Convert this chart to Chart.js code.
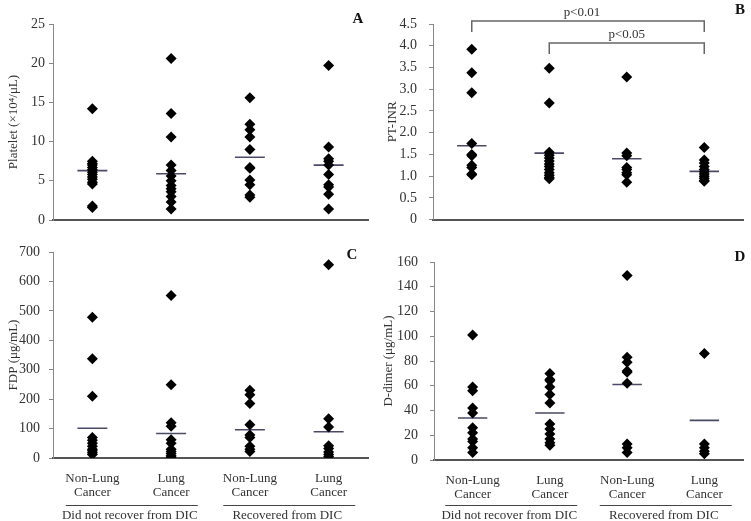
<!DOCTYPE html>
<html lang="en">
<head>
<meta charset="UTF-8">
<title>Coagulation markers by DIC outcome</title>
<style>
  body { margin: 0; background: #fff; }
  .wrap { position: relative; width: 751px; height: 521px; }
  canvas { position: absolute; }
  #pA { left: 0; top: 0; }
  #pB { left: 375px; top: 0; }
  #pC { left: 0; top: 240px; }
  #pD { left: 375px; top: 240px; }
</style>
</head>
<body>
<div class="wrap">
  <canvas id="pA" width="375" height="240"></canvas>
  <canvas id="pB" width="376" height="240"></canvas>
  <canvas id="pC" width="375" height="281"></canvas>
  <canvas id="pD" width="376" height="281"></canvas>
</div>

<script src="https://cdn.jsdelivr.net/npm/chart.js"></script>
<script>
// categories
const catLabels = [['Non-Lung', 'Cancer'], ['Lung', 'Cancer'], ['Non-Lung', 'Cancer'], ['Lung', 'Cancer']];
const groupLabels = ['Did not recover from DIC', 'Recovered from DIC'];

// A - platelet (x10^4/uL)
const pltNoRecNonLung = [14.2, 7.5, 7.2, 7.0, 6.7, 6.4, 6.1, 5.8, 5.5, 5.2, 4.8, 4.6, 1.8, 1.6];
const pltNoRecLung = [20.6, 13.6, 10.6, 7.0, 6.3, 5.6, 5.0, 4.4, 4.0, 3.6, 3.0, 2.3, 1.4];
const pltRecNonLung = [15.6, 12.2, 11.5, 10.6, 9.0, 6.7, 6.6, 5.1, 4.5, 3.2, 2.9];
const pltRecLung = [19.7, 9.3, 7.8, 7.5, 7.0, 5.8, 4.5, 4.2, 3.3, 1.4];
const pltMedian = [6.3, 5.9, 8.0, 7.0];

// B - PT-INR
const inrNoRecNonLung = [3.92, 3.38, 2.92, 1.75, 1.5, 1.47, 1.25, 1.2, 1.05, 1.03];
const inrNoRecLung = [3.48, 2.68, 1.55, 1.48, 1.42, 1.35, 1.28, 1.22, 1.15, 1.08, 1.02, 0.97, 0.94];
const inrRecNonLung = [3.28, 1.53, 1.47, 1.2, 1.15, 1.08, 1.03, 0.86];
const inrRecLung = [1.66, 1.37, 1.3, 1.22, 1.15, 1.1, 1.05, 1.0, 0.95, 0.9, 0.88];
const inrMedian = [1.7, 1.53, 1.4, 1.11];
const inrSig = [{ a: 1, b: 4, label: 'p<0.01' }, { a: 2, b: 4, label: 'p<0.05' }];

// C - FDP (ug/mL)
const fdpNoRecNonLung = [478, 337, 210, 70, 60, 50, 40, 30, 25, 18, 12];
const fdpNoRecLung = [552, 249, 120, 108, 62, 50, 30, 22, 15, 8, 3];
const fdpRecNonLung = [230, 215, 185, 113, 78, 70, 40, 30, 22];
const fdpRecLung = [657, 133, 105, 42, 32, 20, 12, 5];
const fdpMedian = [101, 83, 96, 89];

// D - D-dimer (ug/mL)
const ddNoRecNonLung = [101, 59, 56, 42, 38, 26, 22, 17, 15, 10, 6];
const ddNoRecLung = [70, 65, 64, 59, 53, 46, 29, 25, 21, 17, 14, 12];
const ddRecNonLung = [149, 83, 79, 72, 71, 62, 13, 10, 6];
const ddRecLung = [86, 13, 10, 7, 5];
const ddMedian = [34, 38, 61, 32];

const FONT = 'Liberation Serif, "Times New Roman", serif';
const TXT = '#333';

function toPoints(groups) {
  return groups.flatMap((arr, i) => arr.map(v => ({ x: i + 1, y: v })));
}

function medianPoints(meds) {
  const out = [];
  meds.forEach((m, i) => {
    out.push({ x: i + 1 - 0.19, y: m }, { x: i + 1 + 0.19, y: m }, { x: i + 1.5, y: null });
  });
  return out;
}

// letter in the corner + group captions + brackets
const extras = {
  id: 'extras',
  afterDraw(chart, args, o) {
    const ctx = chart.ctx;
    const xs = chart.scales.x;
    ctx.save();
    ctx.fillStyle = '#111';
    ctx.font = 'bold 15px ' + FONT;
    ctx.textAlign = 'center';
    ctx.textBaseline = 'middle';
    ctx.fillText(o.letter, o.letterX, o.letterY);

    if (o.groups) {
      ctx.font = '13px ' + FONT;
      ctx.fillStyle = TXT;
      ctx.strokeStyle = '#444';
      ctx.lineWidth = 1;
      groupLabels.forEach((g, i) => {
        const x1 = xs.getPixelForValue(1 + i * 2), x2 = xs.getPixelForValue(2 + i * 2);
        const cx = (x1 + x2) / 2;
        ctx.beginPath();
        ctx.moveTo(cx - 66, o.lineY + 0.5);
        ctx.lineTo(cx + 66, o.lineY + 0.5);
        ctx.stroke();
        ctx.fillText(g, cx - 2, o.lineY + 11);
      });
    }

    if (o.sig) {
      ctx.strokeStyle = '#666';
      ctx.lineWidth = 1.5;
      ctx.font = '13px ' + FONT;
      ctx.fillStyle = TXT;
      o.sig.forEach((s, i) => {
        const x1 = xs.getPixelForValue(s.a), x2 = xs.getPixelForValue(s.b);
        const top = chart.chartArea.top - 3 + i * 22;
        ctx.beginPath();
        ctx.moveTo(x1, top + 11);
        ctx.lineTo(x1, top);
        ctx.lineTo(x2, top);
        ctx.lineTo(x2, top + 11);
        ctx.stroke();
        ctx.fillText(s.label, (x1 + x2) / 2 - (i ? 0 : 6), top - 8);
      });
    }
    ctx.restore();
  }
};

function makePanel(id, cfg) {
  new Chart(document.getElementById(id), {
    type: 'scatter',
    data: {
      datasets: [
        {
          data: toPoints(cfg.groups),
          pointStyle: 'rectRot',
          pointRadius: 5.5,
          pointHoverRadius: 5.5,
          backgroundColor: '#000',
          borderColor: '#000',
          borderWidth: 0
        },
        {
          data: medianPoints(cfg.median),
          showLine: true,
          spanGaps: false,
          pointRadius: 0,
          borderColor: '#4a4a66',
          borderWidth: 1.6
        }
      ]
    },
    options: {
      responsive: false,
      animation: false,
      layout: { padding: { top: cfg.top, right: cfg.right, left: 0, bottom: 0 } },
      plugins: {
        legend: { display: false },
        tooltip: { enabled: false },
        extras: cfg.extras
      },
      scales: {
        x: {
          type: 'linear',
          min: 0.5,
          max: 4.5,
          afterBuildTicks: s => { s.ticks = [1, 2, 3, 4].map(v => ({ value: v })); },
          afterFit: s => { s.height = cfg.bottom; },
          grid: { display: false },
          border: { color: '#555', width: 2 },
          ticks: {
            display: cfg.showCats,
            padding: 6,
            color: TXT,
            font: { family: FONT, size: 13, lineHeight: 1.08 },
            callback: v => catLabels[v - 1]
          }
        },
        y: {
          min: 0,
          max: cfg.max,
          afterFit: s => { s.width = cfg.left; s.paddingTop = 8; },
          grid: { drawOnChartArea: false, tickLength: 4, color: '#888' },
          border: { color: '#888', width: 1 },
          ticks: {
            stepSize: cfg.step,
            padding: cfg.tickPad,
            color: TXT,
            font: { family: FONT, size: 14 },
            callback: cfg.fmt || (v => v)
          },
          title: {
            display: true,
            text: cfg.title,
            color: TXT,
            font: { family: FONT, size: 13 },
            padding: { top: cfg.titlePad, bottom: 0 }
          }
        }
      }
    },
    plugins: [extras]
  });
}

makePanel('pA', {
  groups: [pltNoRecNonLung, pltNoRecLung, pltRecNonLung, pltRecLung],
  median: pltMedian, max: 25, step: 5, title: 'Platelet (×10⁴/μL)',
  top: 24, right: 7, left: 53, bottom: 20, showCats: false, tickPad: 4, titlePad: 6,
  extras: { letter: 'A', letterX: 358, letterY: 19 }
});

makePanel('pB', {
  groups: [inrNoRecNonLung, inrNoRecLung, inrRecNonLung, inrRecLung],
  median: inrMedian, max: 4.5, step: 0.5, title: 'PT-INR',
  fmt: v => (v === 0 ? '0' : v.toFixed(1)),
  top: 24, right: 8, left: 58, bottom: 20, showCats: false, tickPad: 12, titlePad: 10,
  extras: { letter: 'B', letterX: 365, letterY: 10, sig: inrSig }
});

makePanel('pC', {
  groups: [fdpNoRecNonLung, fdpNoRecLung, fdpRecNonLung, fdpRecLung],
  median: fdpMedian, max: 700, step: 100, title: 'FDP (μg/mL)',
  top: 12, right: 7, left: 53, bottom: 63, showCats: true, tickPad: 9, titlePad: 6,
  extras: { letter: 'C', letterX: 352, letterY: 15, groups: true, lineY: 265 }
});

makePanel('pD', {
  groups: [ddNoRecNonLung, ddNoRecLung, ddRecNonLung, ddRecLung],
  median: ddMedian, max: 160, step: 20, title: 'D-dimer (μg/mL)',
  top: 22, right: 8, left: 59, bottom: 61, showCats: true, tickPad: 12, titlePad: 6,
  extras: { letter: 'D', letterX: 365, letterY: 17, groups: true, lineY: 265 }
});
</script>
</body>
</html>
